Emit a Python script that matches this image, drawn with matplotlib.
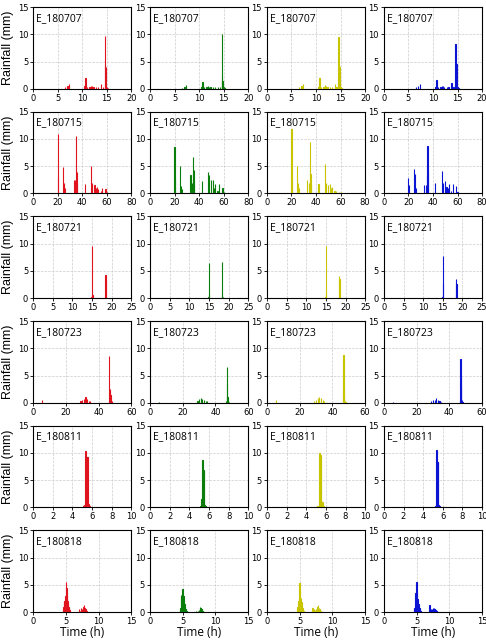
import numpy as np
import matplotlib.pyplot as plt

# rainfall events (time in hours, rainfall in mm); one value list per model column
events = ["E_180707", "E_180715", "E_180721", "E_180723", "E_180811", "E_180818"]
xmax = [20, 80, 25, 60, 10, 15]
xstep = [5, 20, 5, 20, 2, 5]
colors = ["#e0141e", "#0a7d0a", "#c8c400", "#0a14d2"]

t_180707 = [6.5, 7.0, 7.3, 10.5, 10.7, 11.0, 11.5, 11.8, 12.0, 12.3, 12.8, 13.2, 13.8, 14.2, 14.6, 14.7, 14.8, 15.0, 15.2]
r_180707 = [0.3, 0.5, 0.9, 0.5, 1.9, 0.3, 0.3, 0.6, 0.5, 0.3, 0.3, 0.4, 0.8, 0.4, 9.7, 4.1, 4.0, 0.3, 0.2]
g_180707 = [0.2, 0.4, 0.7, 0.4, 1.3, 0.3, 0.3, 0.6, 0.4, 0.3, 0.3, 0.3, 0.4, 0.4, 10.0, 2.3, 1.5, 0.3, 0.1]
y_180707 = [0.3, 0.5, 0.8, 0.4, 1.9, 0.3, 0.3, 0.7, 0.5, 0.3, 0.3, 0.4, 0.8, 0.4, 9.5, 4.4, 4.0, 0.3, 0.2]
b_180707 = [0.3, 0.5, 0.8, 0.4, 1.7, 0.3, 0.3, 0.6, 0.5, 0.3, 0.3, 0.4, 1.0, 0.4, 8.3, 4.7, 4.5, 0.3, 0.2]

t_180715 = [20.0, 20.5, 24.5, 25.0, 26.0, 33.0, 34.0, 35.0, 35.5, 36.0, 42.0, 47.0, 48.0, 50.0, 51.0, 52.0, 53.0, 55.0, 56.0, 59.0, 60.0]
r_180715 = [10.9, 3.0, 4.8, 2.0, 1.0, 2.5, 2.5, 10.6, 3.9, 2.0, 1.8, 5.1, 2.0, 1.5, 1.0, 1.2, 0.8, 0.5, 1.0, 0.8, 0.3]
g_180715 = [8.6, 2.6, 5.0, 1.4, 0.8, 3.3, 2.0, 6.7, 4.3, 2.0, 2.2, 3.9, 3.3, 2.5, 2.5, 1.0, 1.8, 0.5, 1.8, 1.0, 0.3]
y_180715 = [11.8, 2.5, 5.0, 2.0, 1.0, 2.5, 2.0, 9.5, 3.5, 1.5, 1.8, 5.5, 2.0, 1.5, 1.8, 1.0, 1.2, 0.5, 0.5, 0.3, 0.2]
b_180715 = [2.8, 1.5, 4.5, 3.5, 1.0, 1.5, 1.5, 3.2, 8.8, 4.2, 2.0, 4.1, 2.0, 2.2, 1.2, 1.0, 1.7, 0.5, 1.7, 1.3, 0.3]

t_180721 = [14.9, 15.0, 15.1, 18.3, 18.4, 18.5]
r_180721 = [0.2, 9.5, 0.5, 0.3, 4.2, 3.3]
g_180721 = [0.2, 6.5, 0.8, 6.7, 0.5, 0.3]
y_180721 = [0.2, 9.5, 1.0, 0.3, 4.0, 3.5]
b_180721 = [0.2, 7.8, 2.6, 0.3, 3.6, 2.6]

t_180723 = [5.5, 29.0, 30.0, 31.0, 32.0, 33.0, 34.0, 35.0, 46.5, 46.8, 47.0, 47.3, 47.6, 48.0]
r_180723 = [0.5, 0.3, 0.5, 0.7, 1.0, 0.7, 0.4, 0.3, 8.6, 2.0, 2.5, 1.5, 0.5, 0.3]
g_180723 = [0.1, 0.3, 0.7, 0.8, 0.7, 0.5, 0.4, 0.3, 0.3, 6.5, 3.5, 1.0, 0.3, 0.1]
y_180723 = [0.5, 0.3, 0.6, 0.9, 1.1, 0.8, 0.5, 0.3, 2.0, 8.7, 2.5, 1.5, 0.4, 0.2]
b_180723 = [0.1, 0.4, 0.5, 0.6, 0.8, 0.5, 0.4, 0.2, 0.5, 8.0, 4.8, 2.9, 0.5, 0.2]

t_180811 = [5.17, 5.25, 5.33, 5.42, 5.5, 5.58, 5.67, 5.75]
r_180811 = [0.2, 0.5, 10.3, 9.3, 9.2, 0.8, 0.7, 0.2]
g_180811 = [0.3, 1.6, 8.8, 6.8, 6.7, 0.4, 0.2, 0.1]
y_180811 = [0.2, 0.3, 10.0, 9.6, 9.5, 1.0, 1.0, 0.2]
b_180811 = [0.1, 0.3, 10.5, 8.4, 8.4, 0.5, 0.3, 0.1]

t_180818 = [4.58, 4.67, 4.75, 4.83, 4.92, 5.0, 5.08, 5.17, 5.25, 5.33, 5.42, 5.5, 5.58, 7.0, 7.17, 7.33, 7.5, 7.67, 7.75, 7.83, 7.92, 8.0, 8.17]
r_180818 = [0.5, 1.0, 1.8, 2.0, 3.0, 5.5, 4.5, 3.2, 2.0, 1.5, 1.0, 0.7, 0.4, 0.5, 0.3, 0.8, 0.6, 1.0, 1.3, 0.8, 0.6, 0.5, 0.2]
g_180818 = [0.3, 0.8, 3.2, 3.0, 2.6, 4.3, 3.0, 2.0, 1.5, 1.0, 0.6, 0.4, 0.2, 0.2, 0.1, 0.3, 0.4, 1.0, 0.8, 0.6, 0.4, 0.3, 0.1]
y_180818 = [0.4, 1.0, 1.5, 2.0, 2.8, 5.4, 4.0, 2.6, 1.8, 1.3, 0.8, 0.5, 0.3, 0.8, 0.5, 0.4, 0.6, 0.9, 1.0, 1.3, 0.8, 0.5, 0.2]
b_180818 = [0.5, 0.8, 1.0, 3.5, 3.0, 5.6, 3.5, 2.5, 1.5, 1.0, 0.8, 0.5, 0.3, 1.3, 0.6, 0.5, 0.7, 0.7, 0.6, 0.5, 0.4, 0.3, 0.1]

times = [t_180707, t_180715, t_180721, t_180723, t_180811, t_180818]
rain = [
    [r_180707, g_180707, y_180707, b_180707],
    [r_180715, g_180715, y_180715, b_180715],
    [r_180721, g_180721, y_180721, b_180721],
    [r_180723, g_180723, y_180723, b_180723],
    [r_180811, g_180811, y_180811, b_180811],
    [r_180818, g_180818, y_180818, b_180818],
]

fig, axes = plt.subplots(6, 4, figsize=(4.86, 6.41), dpi=100)
fig.subplots_adjust(left=0.068, right=0.992, top=0.989, bottom=0.045,
                    wspace=0.19, hspace=0.28)

for i, ev in enumerate(events):
    for j in range(4):
        ax = axes[i, j]
        ax.bar(times[i], rain[i][j], width=0.083, color=colors[j],
               edgecolor=colors[j], linewidth=0.8, zorder=3)
        ax.set_xlim(0, xmax[i])
        ax.set_ylim(0, 15)
        ax.set_xticks(np.arange(0, xmax[i] + 0.01, xstep[i]))
        ax.set_yticks([0, 5, 10, 15])
        ax.grid(True, linestyle="--", color="#cccccc", linewidth=0.5)
        ax.tick_params(labelsize=6, length=2, width=0.6, pad=1.5)
        for s in ax.spines.values():
            s.set_linewidth(0.8)
        ax.text(0.03, 0.93, ev, transform=ax.transAxes, ha="left", va="top",
                fontsize=7.5, family="Open Sans")
        if j == 0:
            ax.set_ylabel("Rainfall (mm)", fontsize=9, family="Liberation Sans", labelpad=3)
        if i == len(events) - 1:
            ax.set_xlabel("Time (h)", fontsize=8.5, family="Open Sans", labelpad=0)

fig.savefig("out.png")
